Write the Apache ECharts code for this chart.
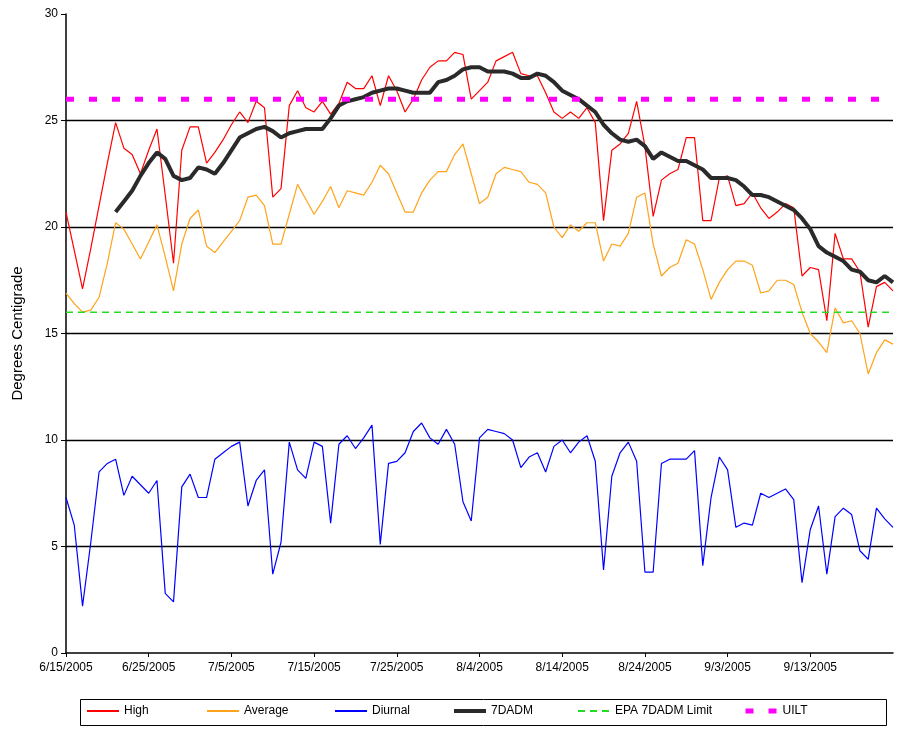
<!DOCTYPE html>
<html><head><meta charset="utf-8">
<script src="https://cdn.jsdelivr.net/npm/echarts@6/dist/echarts.min.js"></script>
<style>html,body{margin:0;padding:0;background:#fff}#c{width:900px;height:732px}</style>
</head><body><div id="c"></div>
<script>
// ---- data ----
const startDay = [2005, 5, 15]; // June 15, 2005
const dayCount = 101;
const dates = [];
for (let i = 0; i < dayCount; i++) {
  const d = new Date(Date.UTC(startDay[0], startDay[1], startDay[2] + i));
  dates.push((d.getUTCMonth() + 1) + '/' + d.getUTCDate() + '/' + d.getUTCFullYear());
}
const tickLabels = ['6/15/2005','6/25/2005','7/5/2005','7/15/2005','7/25/2005','8/4/2005','8/14/2005','8/24/2005','9/3/2005','9/13/2005'];

const high = [
  20.7,18.9,17.1,19.0,21.0,23.0,24.9,23.7,23.4,22.5,
  23.6,24.6,21.5,18.3,23.6,24.7,24.7,23.0,23.5,24.1,
  24.8,25.4,24.9,25.9,25.6,21.4,21.8,25.7,26.4,25.6,
  25.4,25.9,25.3,25.8,26.8,26.5,26.5,27.1,25.7,27.1,
  26.4,25.4,26.0,26.9,27.5,27.8,27.8,28.2,28.1,26.0,
  26.4,26.8,27.8,28.0,28.2,27.2,27.1,27.1,26.3,25.4,
  25.1,25.4,25.1,25.6,24.9,20.3,23.6,23.9,24.4,25.9,
  23.8,20.5,22.2,22.5,22.7,24.2,24.2,20.3,20.3,22.3,
  22.4,21.0,21.1,21.6,20.9,20.4,20.7,21.1,20.9,17.7,
  18.1,18.0,15.6,19.7,18.5,18.5,17.9,15.3,17.2,17.4,17.0
];
const average = [
  16.9,16.4,16.0,16.1,16.7,18.3,20.2,19.9,19.2,18.5,
  19.3,20.1,18.6,17.0,19.2,20.4,20.8,19.1,18.8,19.3,
  19.8,20.3,21.4,21.5,21.0,19.2,19.2,20.6,22.0,21.3,
  20.6,21.2,21.9,20.9,21.7,21.6,21.5,22.1,22.9,22.5,
  21.6,20.7,20.7,21.6,22.2,22.6,22.6,23.4,23.9,22.5,
  21.1,21.4,22.5,22.8,22.7,22.6,22.1,22.0,21.6,20.0,
  19.5,20.1,19.8,20.2,20.2,18.4,19.2,19.1,19.7,21.4,
  21.6,19.2,17.7,18.1,18.3,19.4,19.2,18.0,16.6,17.4,
  18.0,18.4,18.4,18.2,16.9,17.0,17.5,17.5,17.3,16.0,
  15.0,14.6,14.1,16.2,15.5,15.6,15.0,13.1,14.1,14.7,14.5
];
const diurnal = [
  7.3,6.0,2.2,5.2,8.5,8.9,9.1,7.4,8.3,7.9,
  7.5,8.1,2.8,2.4,7.8,8.4,7.3,7.3,9.1,9.4,
  9.7,9.9,6.9,8.1,8.6,3.7,5.2,9.9,8.6,8.2,
  9.9,9.7,6.1,9.8,10.2,9.6,10.1,10.7,5.1,8.9,
  9.0,9.4,10.4,10.8,10.1,9.8,10.5,9.8,7.1,6.2,
  10.1,10.5,10.4,10.3,10.0,8.7,9.2,9.4,8.5,9.7,
  10.0,9.4,9.9,10.2,9.0,3.9,8.3,9.4,9.9,9.0,
  3.8,3.8,8.9,9.1,9.1,9.1,9.5,4.1,7.3,9.2,
  8.6,5.9,6.1,6.0,7.5,7.3,7.5,7.7,7.2,3.3,
  5.8,6.9,3.7,6.4,6.8,6.5,4.8,4.4,6.8,6.3,5.9
];
const dadm7 = [
  null,null,null,null,null,null,20.7,21.2,21.7,22.4,
  23.0,23.5,23.2,22.4,22.2,22.3,22.8,22.7,22.5,23.0,
  23.6,24.2,24.4,24.6,24.7,24.5,24.2,24.4,24.5,24.6,
  24.6,24.6,25.1,25.7,25.9,26.0,26.1,26.3,26.4,26.5,
  26.5,26.4,26.3,26.3,26.3,26.8,26.9,27.1,27.4,27.5,
  27.5,27.3,27.3,27.3,27.2,27.0,27.0,27.2,27.1,26.8,
  26.4,26.2,26.0,25.7,25.4,24.8,24.4,24.1,24.0,24.1,
  23.8,23.2,23.5,23.3,23.1,23.1,22.9,22.7,22.3,22.3,
  22.3,22.2,21.9,21.5,21.5,21.4,21.2,21.0,20.8,20.4,
  19.9,19.1,18.8,18.6,18.4,18.0,17.9,17.5,17.4,17.7,17.4
];
const epaLimit = 16;
const uiltLimit = 26;
const epaLine = dates.map(() => epaLimit);
const uiltLine = dates.map(() => uiltLimit);

// ---- chart ----
const chart = echarts.init(document.getElementById('c'), null, {renderer: 'canvas'});
const FONT = '"Liberation Sans", Arial, sans-serif';
const showTick = (idx, val) => tickLabels.indexOf(val) !== -1;

function lineSeries(name, data, color, width, type, z) {
  return {
    name, type: 'line', data, symbol: 'none', showSymbol: false, z,
    connectNulls: false, animation: false,
    itemStyle: {color},
    lineStyle: {color, width, type: type || 'solid'}
  };
}

function legendItem(name, left, lineWidth) {
  return {
    data: [name], left, top: 705, itemWidth: 32, itemHeight: 12, itemGap: 0, padding: 0,
    itemStyle: {opacity: 0},
    lineStyle: {width: lineWidth},
    textStyle: {fontFamily: FONT, fontSize: 12, color: '#000'},
    selectedMode: false
  };
}

chart.setOption({
  backgroundColor: '#fff',
  animation: false,
  grid: {left: 66, right: 7, top: 14, bottom: 79, containLabel: false},
  xAxis: {
    type: 'category', data: dates, boundaryGap: false,
    axisLine: {lineStyle: {color: '#000', width: 1.5}},
    axisTick: {show: true, interval: showTick, length: 4, lineStyle: {color: '#000'}},
    axisLabel: {interval: showTick, fontFamily: FONT, fontSize: 12, color: '#000', margin: 9},
    splitLine: {show: false}
  },
  yAxis: {
    type: 'value', min: 0, max: 30, interval: 5,
    name: 'Degrees Centigrade', nameLocation: 'middle', nameGap: 41,
    nameTextStyle: {fontFamily: FONT, fontSize: 15, color: '#000'},
    axisLine: {show: true, lineStyle: {color: '#000', width: 1.5}},
    axisTick: {show: true, length: 5, lineStyle: {color: '#000'}},
    axisLabel: {fontFamily: FONT, fontSize: 12, color: '#000', margin: 8},
    splitLine: {show: true, lineStyle: {color: ['rgba(0,0,0,0)','#000','#000','#000','#000','#000','rgba(0,0,0,0)'], width: 1.4}}
  },
  legend: [
    legendItem('High', 86, 2),
    legendItem('Average', 206, 2),
    legendItem('Diurnal', 334, 2),
    legendItem('7DADM', 452, 4),
    legendItem('EPA 7DADM Limit', 577, 2),
    legendItem('UILT', 743, 5)
  ],
  graphic: [{
    type: 'rect', left: 78, top: 697, shape: {width: 806, height: 26},
    style: {fill: 'none', stroke: '#000', lineWidth: 1}, silent: true
  }],
  series: [
    lineSeries('High', high, '#ff0000', 1.2, 'solid', 2),
    lineSeries('Average', average, '#ffa31a', 1.2, 'solid', 2),
    lineSeries('Diurnal', diurnal, '#0000ff', 1.2, 'solid', 2),
    lineSeries('7DADM', dadm7, '#2a2a2a', 4, 'solid', 3),
    lineSeries('EPA 7DADM Limit', epaLine, '#22dd22', 1.5, [7, 5], 4),
    lineSeries('UILT', uiltLine, '#ff00ff', 5, [8, 15], 4)
  ]
});
</script>
</body></html>
